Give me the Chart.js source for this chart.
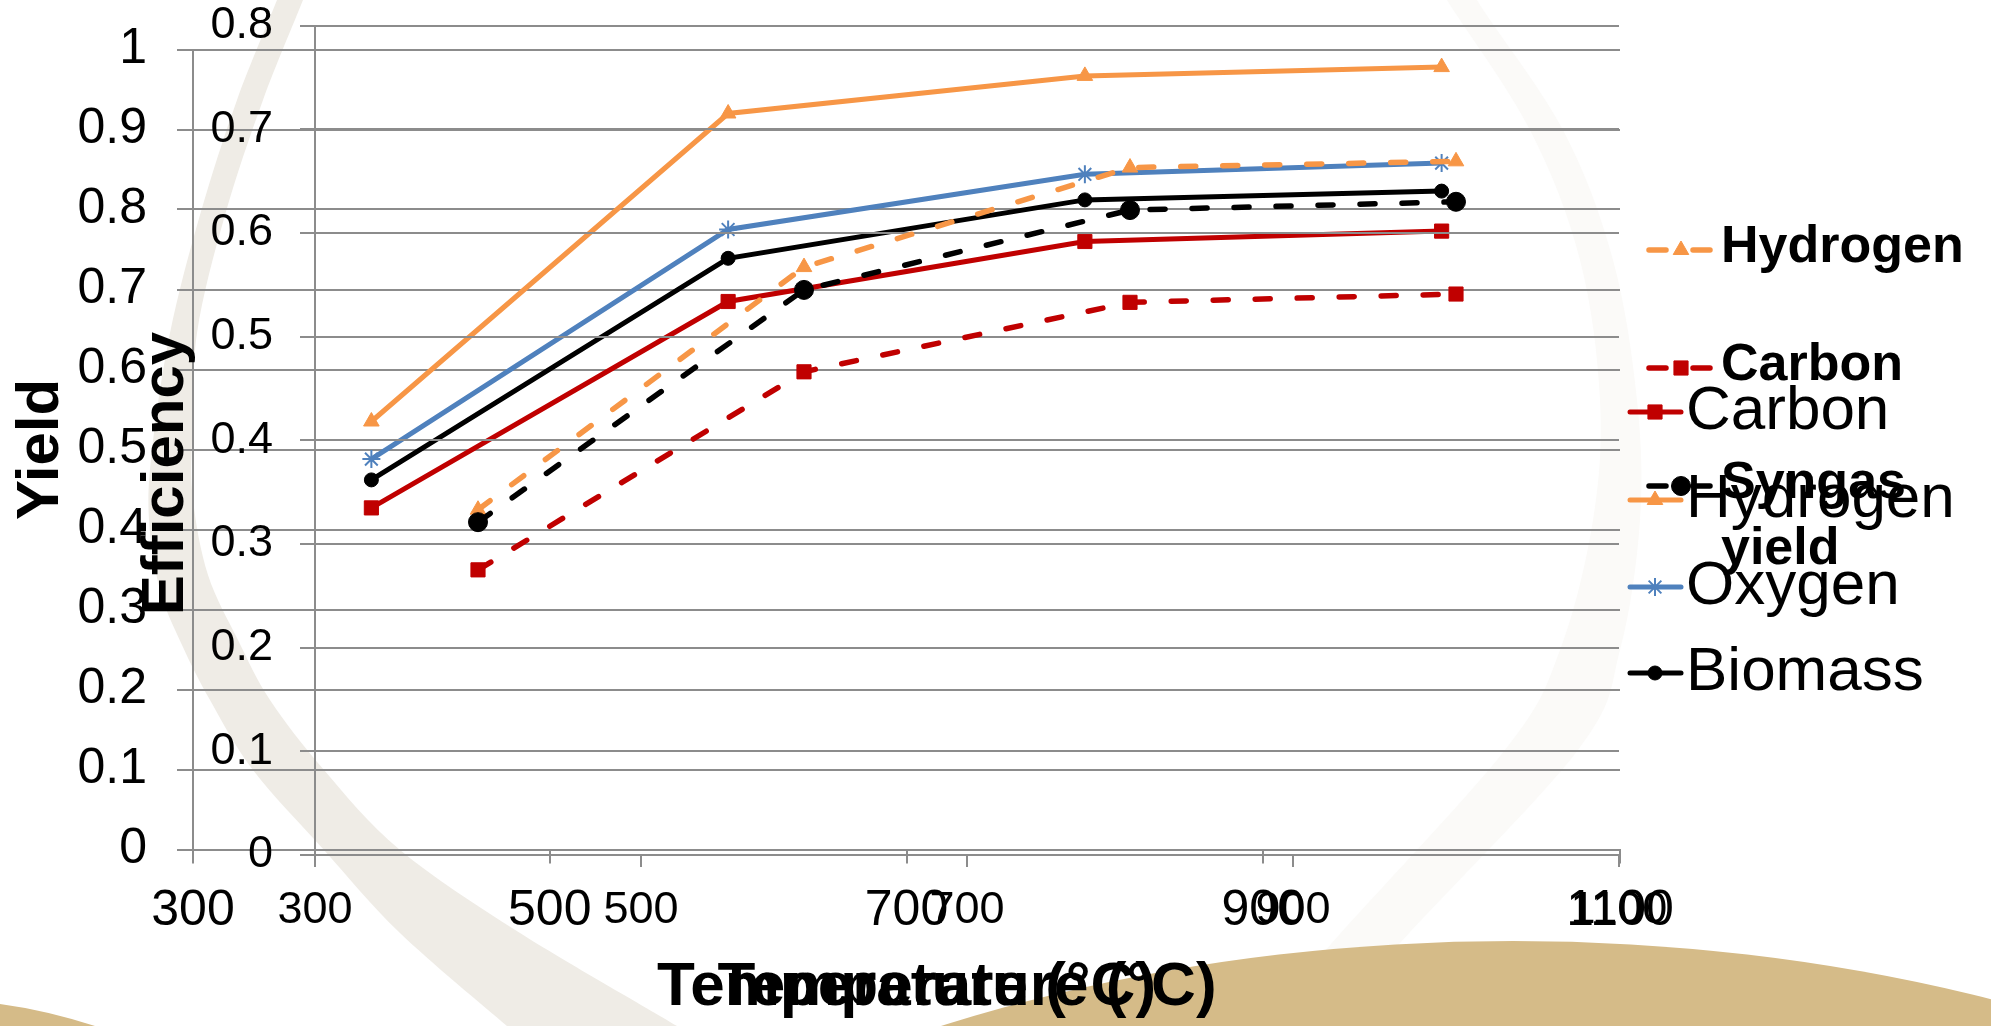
<!DOCTYPE html>
<html>
<head>
<meta charset="utf-8">
<script src="https://cdn.jsdelivr.net/npm/chart.js@4.4.1/dist/chart.umd.min.js"></script>
<style>
html,body{margin:0;padding:0;background:#fff;overflow:hidden}
#wrap{position:relative;width:1991px;height:1026px}
#wrap canvas{position:absolute;left:0;top:0}
</style>
</head>
<body>
<div id="wrap">
<canvas id="yieldChart" width="1991" height="1026"></canvas>
<canvas id="effChart" width="1991" height="1026"></canvas>
</div>
<script>
// ---------- data ----------
const temperatures = [400, 600, 800, 1000];
const xTickValues = [300, 500, 700, 900, 1100];
const yieldTickValues = [0, 0.1, 0.2, 0.3, 0.4, 0.5, 0.6, 0.7, 0.8, 0.9, 1];
const efficiencyTickValues = [0, 0.1, 0.2, 0.3, 0.4, 0.5, 0.6, 0.7, 0.8];

const yieldCarbon   = [0.427, 0.685, 0.760, 0.773];
const yieldHydrogen = [0.535, 0.920, 0.967, 0.978];
const yieldOxygen   = [0.488, 0.775, 0.844, 0.858];
const yieldBiomass  = [0.462, 0.739, 0.812, 0.823];

const effHydrogen = [0.333, 0.567, 0.663, 0.669];
const effCarbon   = [0.275, 0.466, 0.533, 0.541];
const effSyngas   = [0.321, 0.545, 0.622, 0.630];

const xTitle = 'Temperature (°C)';
const yieldTitle = 'Yield';
const efficiencyTitle = 'Efficiency';

// ---------- styling ----------
const FONT = '"Liberation Sans", Arial, sans-serif';
const GRID = '#8c8c8c';
const RED = '#C00000', ORANGE = '#F79646', BLUE = '#4F81BD', BLACK = '#000000';

function pts(vals) { return temperatures.map((t, i) => ({ x: t, y: vals[i] })); }
function fmt(v) { return String(Math.round(v * 10) / 10); }

// smooth curve through points (Catmull-Rom -> Bezier)
function smoothPath(ctx, p, first) {
  if (first) ctx.moveTo(p[0][0], p[0][1]); else ctx.lineTo(p[0][0], p[0][1]);
  for (let i = 0; i < p.length - 1; i++) {
    const p0 = p[i - 1] || p[i], p1 = p[i], p2 = p[i + 1], p3 = p[i + 2] || p2;
    ctx.bezierCurveTo(p1[0] + (p2[0] - p0[0]) / 6, p1[1] + (p2[1] - p0[1]) / 6,
                      p2[0] - (p3[0] - p1[0]) / 6, p2[1] - (p3[1] - p1[1]) / 6,
                      p2[0], p2[1]);
  }
}

const backgroundPlugin = {
  id: 'slideBackground',
  beforeDraw(chart) {
    const c = chart.ctx;
    c.save();
    c.fillStyle = '#ffffff';
    c.fillRect(0, 0, chart.width, chart.height);
    // very faint right band
    c.beginPath();
    smoothPath(c, [[1462,-40],[1477,0],[1563,130],[1613,260],[1637,400],[1640,520],[1620,650],[1578,750],[1394,950],[1320,1045]], true);
    smoothPath(c, [[1250,1045],[1326,950],[1505,750],[1560,650],[1593,520],[1600,400],[1580,260],[1530,130],[1447,0],[1425,-40]], false);
    c.closePath();
    c.fillStyle = '#FBFAF8';
    c.fill();
    // left band
    c.beginPath();
    smoothPath(c, [[292,-40],[277,0],[237,100],[200,215],[170,333],[152,450],[149,520],[160,590],[182,645],[210,700],[253,770],[324,850],[400,933],[507,1026],[530,1045]], true);
    smoothPath(c, [[705,1045],[677,1026],[520,933],[400,850],[324,770],[270,700],[238,640],[208,575],[193,500],[192,440],[197,333],[225,215],[263,100],[303,0],[318,-40]], false);
    c.closePath();
    c.fillStyle = '#EFECE6';
    c.fill();
    // tan shapes
    c.fillStyle = '#D5BB88';
    c.beginPath();
    c.ellipse(1513, 1644, 1200, 703, 0, 0, Math.PI * 2);
    c.fill();
    c.beginPath();
    c.moveTo(0, 1004);
    c.quadraticCurveTo(45, 1010, 95, 1026);
    c.lineTo(0, 1026);
    c.closePath();
    c.fill();
    c.restore();
  }
};

function drawMarker(ctx, style, r, x, y) {
  if (Chart.helpers && Chart.helpers.drawPoint) {
    Chart.helpers.drawPoint(ctx, { pointStyle: style, rotation: 0, radius: r, borderWidth: ctx.lineWidth }, x, y);
    return;
  }
  ctx.beginPath();
  if (style === 'circle') ctx.arc(x, y, r, 0, Math.PI * 2);
  else if (style === 'rect') { const s = r * Math.SQRT1_2; ctx.rect(x - s, y - s, 2 * s, 2 * s); }
  else if (style === 'triangle') {
    for (let k = 0; k < 3; k++) { const a = k * 2 * Math.PI / 3; ctx[k ? 'lineTo' : 'moveTo'](x + Math.sin(a) * r, y - Math.cos(a) * r); }
    ctx.closePath();
  } else if (style === 'star') {
    for (let k = 0; k < 4; k++) { const a = k * Math.PI / 4; ctx.moveTo(x - Math.sin(a) * r, y - Math.cos(a) * r); ctx.lineTo(x + Math.sin(a) * r, y + Math.cos(a) * r); }
  }
  ctx.fill(); ctx.stroke();
}

const legendPlugin = {
  id: 'sideLegend',
  afterDraw(chart, args, o) {
    const c = chart.ctx;
    c.save();
    chart.data.datasets.forEach((ds, i) => {
      const y = o.rows[i];
      c.strokeStyle = ds.borderColor;
      c.lineWidth = ds.borderWidth;
      c.lineCap = 'round';
      c.setLineDash([]);
      c.beginPath();
      o.segments.forEach(s => { c.moveTo(s[0], y); c.lineTo(s[1], y); });
      c.stroke();
      c.lineCap = 'butt';
      c.fillStyle = ds.pointBackgroundColor;
      c.strokeStyle = ds.pointBorderColor;
      c.lineWidth = ds.pointBorderWidth;
      drawMarker(c, ds.pointStyle, ds.pointRadius, o.markerX, y);
      // text, wrapped
      c.fillStyle = '#000';
      c.font = o.font;
      c.textAlign = 'left';
      c.textBaseline = 'middle';
      const words = ds.label.split(' ');
      const lines = [];
      let cur = '';
      words.forEach(w => {
        const t = cur ? cur + ' ' + w : w;
        if (cur && c.measureText(t).width > o.maxWidth) { lines.push(cur); cur = w; } else cur = t;
      });
      lines.push(cur);
      lines.forEach((ln, k) => c.fillText(ln, o.textX, y + o.textShift + k * o.lineGap));
    });
    c.restore();
  }
};

function gridOpts(tl, onArea) {
  return { display: true, drawOnChartArea: onArea, drawTicks: true, tickLength: tl, color: GRID, lineWidth: 2 };
}
function noPad(s) { s.paddingTop = 0; s.paddingBottom = 0; s.paddingLeft = 0; s.paddingRight = 0; }

function baseLine(label, data, color, style, radius, dashed, order, pbw) {
  return {
    label: label, data: pts(data), order: order,
    borderColor: color, backgroundColor: color,
    borderWidth: dashed ? 5.5 : 5,
    borderDash: dashed ? [15, 27] : [],
    borderCapStyle: dashed ? 'round' : 'butt',
    tension: 0, fill: false,
    pointStyle: style, pointRadius: radius, pointHoverRadius: radius,
    pointBackgroundColor: color, pointBorderColor: color, pointBorderWidth: pbw
  };
}

// ---------- Yield chart (bottom layer) ----------
new Chart(document.getElementById('yieldChart'), {
  type: 'line',
  data: {
    datasets: [
      baseLine('Carbon', yieldCarbon, RED, 'rect', 10, false, 1, 1),
      baseLine('Hydrogen', yieldHydrogen, ORANGE, 'triangle', 9, false, 2, 1),
      baseLine('Oxygen', yieldOxygen, BLUE, 'star', 9, false, 3, 2),
      baseLine('Biomass', yieldBiomass, BLACK, 'circle', 7, false, 4, 1)
    ]
  },
  options: {
    responsive: false, animation: false, devicePixelRatio: 1,
    layout: { autoPadding: false, padding: { left: 0, top: 49.5, right: 371, bottom: 0 } },
    plugins: {
      legend: { display: false }, tooltip: { enabled: false },
      sideLegend: {
        rows: [412, 500, 587, 673], segments: [[1630, 1681]], markerX: 1655,
        textX: 1686, textShift: 0, lineGap: 70, maxWidth: 400,
        font: '62px ' + FONT
      }
    },
    scales: {
      x: {
        type: 'linear', position: 'bottom', min: 300, max: 1100,
        afterBuildTicks: s => { s.ticks = xTickValues.map(v => ({ value: v })); },
        grid: gridOpts(14, false),
        border: { display: true, color: GRID, width: 2 },
        ticks: { font: { family: FONT, size: 50 }, color: '#000', padding: 17.5, maxRotation: 0, autoSkip: false, callback: v => String(v) },
        title: { display: true, text: xTitle, color: '#000', font: { family: FONT, size: 62, weight: 'bold' }, padding: { top: 0, bottom: 1.3 } },
        afterFit: s => { s.height = 176.5; noPad(s); }
      },
      y: {
        type: 'linear', position: 'left', min: 0, max: 1,
        afterBuildTicks: s => { s.ticks = yieldTickValues.map(v => ({ value: v })); },
        grid: gridOpts(16, true),
        border: { display: true, color: GRID, width: 2 },
        ticks: { font: { family: FONT, size: 50 }, color: '#000', padding: 30, callback: v => fmt(v) },
        title: { display: true, text: yieldTitle, color: '#000', font: { family: FONT, size: 60, weight: 'bold' }, padding: { top: 5, bottom: 0 } },
        afterFit: s => { s.width = 193; noPad(s); }
      }
    }
  },
  plugins: [backgroundPlugin, legendPlugin]
});

// ---------- Efficiency chart (top layer) ----------
new Chart(document.getElementById('effChart'), {
  type: 'line',
  data: {
    datasets: [
      baseLine('Hydrogen', effHydrogen, ORANGE, 'triangle', 9, true, 3, 1),
      baseLine('Carbon', effCarbon, RED, 'rect', 10, true, 2, 1),
      baseLine('Syngas yield', effSyngas, BLACK, 'circle', 9.5, true, 1, 1)
    ]
  },
  options: {
    responsive: false, animation: false, devicePixelRatio: 1,
    layout: { autoPadding: false, padding: { left: 0, top: 25.5, right: 372, bottom: 0 } },
    plugins: {
      legend: { display: false }, tooltip: { enabled: false },
      sideLegend: {
        rows: [250, 368, 486], segments: [[1649, 1666], [1693, 1710]], markerX: 1681,
        textX: 1721, textShift: -2, lineGap: 66, maxWidth: 270,
        font: 'bold 52px ' + FONT
      }
    },
    scales: {
      x: {
        type: 'linear', position: 'bottom', min: 300, max: 1100,
        afterBuildTicks: s => { s.ticks = xTickValues.map(v => ({ value: v })); },
        grid: gridOpts(12, false),
        border: { display: true, color: GRID, width: 2 },
        ticks: { font: { family: FONT, size: 45 }, color: '#000', padding: 17, maxRotation: 0, autoSkip: false, callback: v => String(v) },
        title: { display: true, text: xTitle, color: '#000', font: { family: FONT, size: 62, weight: 'bold' }, padding: { top: 0, bottom: 1.3 } },
        afterFit: s => { s.height = 171; noPad(s); }
      },
      y: {
        type: 'linear', position: 'left', min: 0, max: 0.8,
        afterBuildTicks: s => { s.ticks = efficiencyTickValues.map(v => ({ value: v })); },
        grid: gridOpts(15, true),
        border: { display: true, color: GRID, width: 2 },
        ticks: { font: { family: FONT, size: 45 }, color: '#000', padding: 27, callback: v => fmt(v) },
        title: { display: true, text: efficiencyTitle + '    ', color: '#000', font: { family: FONT, size: 60, weight: 'bold' }, padding: { top: 130, bottom: 0 } },
        afterFit: s => { s.width = 315; noPad(s); }
      }
    }
  },
  plugins: [legendPlugin]
});
</script>
</body>
</html>
